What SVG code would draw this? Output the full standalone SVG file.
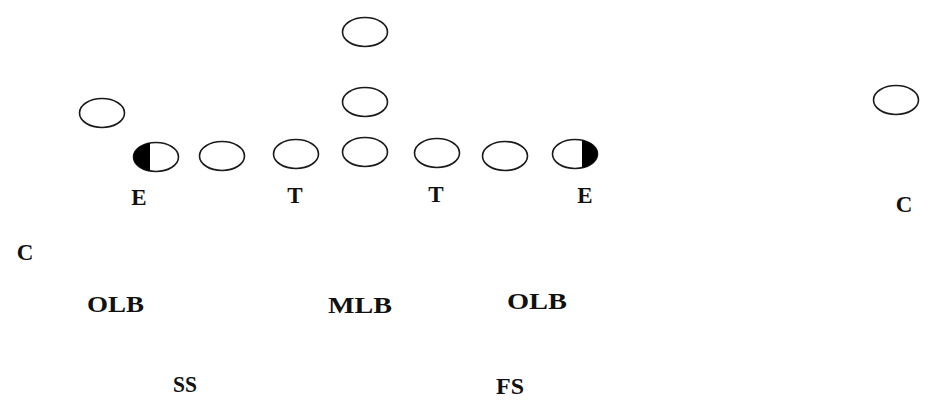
<svg xmlns="http://www.w3.org/2000/svg" width="932" height="413" viewBox="0 0 932 413">
<style>
.p{fill:#fff;stroke:#1a1a1a;stroke-width:1.6}
.h{fill:#000;stroke:none}
.t{font-family:"Liberation Serif","Times New Roman",serif;font-size:23px;font-weight:bold;fill:#111}
</style>
<rect width="932" height="413" fill="#fff"/>
<g id="connectors"/>
<g id="p-top"><ellipse class="p" cx="365" cy="32" rx="22.5" ry="14.5"/></g>
<g id="p-mid"><ellipse class="p" cx="365" cy="102" rx="22.5" ry="14.5"/></g>
<g id="p-left-back"><ellipse class="p" cx="102" cy="113" rx="22.5" ry="14.5"/></g>
<g id="p-right-wide"><ellipse class="p" cx="896" cy="100" rx="22.5" ry="14.5"/></g>
<g id="p-le"><ellipse class="p" cx="156" cy="157" rx="22.5" ry="14.5"/><path class="h" d="M150 143.03 A22.5 14.5 0 0 0 150 170.97 Z"/></g>
<g id="p-l2"><ellipse class="p" cx="222" cy="156" rx="22.5" ry="14.5"/></g>
<g id="p-l3"><ellipse class="p" cx="296" cy="154" rx="22.5" ry="14.5"/></g>
<g id="p-c"><ellipse class="p" cx="365" cy="152" rx="22.5" ry="14.5"/></g>
<g id="p-r3"><ellipse class="p" cx="437" cy="153" rx="22.5" ry="14.5"/></g>
<g id="p-r2"><ellipse class="p" cx="505" cy="156" rx="22.5" ry="14.5"/></g>
<g id="p-re"><ellipse class="p" cx="575" cy="154" rx="22.5" ry="14.5"/><path class="h" d="M582 140.22 A22.5 14.5 0 0 1 582 167.78 Z"/></g>
<g id="d-e1"><text class="t" x="139" y="205" text-anchor="middle">E</text></g>
<g id="d-t1"><text class="t" x="295" y="203" text-anchor="middle">T</text></g>
<g id="d-t2"><text class="t" x="436" y="202" text-anchor="middle">T</text></g>
<g id="d-e2"><text class="t" x="585" y="203" text-anchor="middle">E</text></g>
<g id="d-c1"><text class="t" x="25" y="260" text-anchor="middle">C</text></g>
<g id="d-c2"><text class="t" x="904" y="212" text-anchor="middle">C</text></g>
<g id="d-olb1"><text class="t" x="87" y="312" textLength="57" lengthAdjust="spacingAndGlyphs">OLB</text></g>
<g id="d-mlb"><text class="t" x="328" y="313" textLength="64" lengthAdjust="spacingAndGlyphs">MLB</text></g>
<g id="d-olb2"><text class="t" x="507" y="309" textLength="60" lengthAdjust="spacingAndGlyphs">OLB</text></g>
<g id="d-ss"><text class="t" x="173" y="392" textLength="24" lengthAdjust="spacingAndGlyphs">SS</text></g>
<g id="d-fs"><text class="t" x="496" y="394" textLength="28" lengthAdjust="spacingAndGlyphs">FS</text></g>
</svg>
